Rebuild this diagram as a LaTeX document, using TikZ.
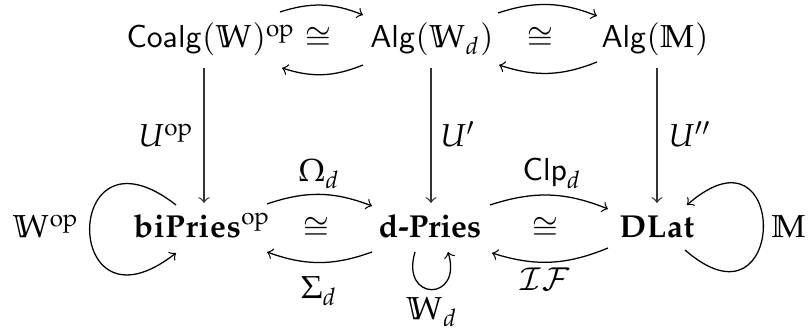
\documentclass[tikz,border=0pt]{standalone}
\usepackage[T1]{fontenc}
\usepackage{amsmath,amssymb}
\usepackage{mathpazo}
\begin{document}
\begin{tikzpicture}[x=0.315pt,y=0.315pt,
  lbl/.style={inner sep=0pt},
  bl/.style={inner sep=0pt,anchor=base},
  arr/.style={->,line width=0.4pt},
  vert/.style={->,line width=0.4pt,draw=black!80}]
\useasboundingbox (0,0) rectangle (812,335);
% top row (baseline Y=287)
\node[bl] (coalg) at (211,287) {$\mathsf{Coalg}(\mathbb{W})^{\mathrm{op}}$};
\node[bl] (c1) at (318,287) {$\cong$};
\node[bl] (algw) at (432,287) {$\mathsf{Alg}(\mathbb{W}_d)$};
\node[bl] (c2) at (540,287) {$\cong$};
\node[bl] (algm) at (655,287) {$\mathsf{Alg}(\mathbb{M})$};
% bottom row (baseline Y=97)
\node[bl] (wop) at (46,97) {$\mathbb{W}^{\mathrm{op}}$};
\node[bl] (bip) at (202,97) {$\mathbf{biPries}^{\mathrm{op}}$};
\node[bl] (c3) at (316,97) {$\cong$};
\node[bl] (dp) at (430,97) {\textbf{d-Pries}};
\node[bl] (c4) at (545,97) {$\cong$};
\node[bl] (dlat) at (657,97) {$\mathbf{DLat}$};
\node[bl] (mm) at (789,97) {$\mathbb{M}$};
% labels
\node[bl] (uop) at (166,188) {$U^{\mathrm{op}}$};
\node[bl] (up) at (458,188) {$U'$};
\node[bl] (upp) at (690,188) {$U''$};
\node[bl] (om) at (319,153) {$\Omega_d$};
\node[bl] (si) at (319,36) {$\Sigma_d$};
\node[bl] (clp) at (552,154) {$\mathsf{Clp}_d$};
\node[bl] (if) at (545,44) {$\mathcal{IF}$};
\node[bl] (wd) at (432,15) {$\mathbb{W}_d$};
% vertical arrows
\coordinate (v1s) at (204,267); \coordinate (v1e) at (204,132);
\coordinate (v2s) at (431,267); \coordinate (v2e) at (431,132);
\coordinate (v3s) at (657,267); \coordinate (v3e) at (657,132);
\draw[vert] (v1s) -- (v1e);
\draw[vert] (v2s) -- (v2e);
\draw[vert] (v3s) -- (v3e);
% top curved arrows
\coordinate (a1s) at (280,323); \coordinate (a1e) at (363,320);
\coordinate (b1s) at (363,270); \coordinate (b1e) at (282,267);
\coordinate (a2s) at (498,322); \coordinate (a2e) at (597,319);
\coordinate (b2s) at (597,273); \coordinate (b2e) at (499,270);
\draw[arr] (a1s) to[bend left=20] (a1e);
\draw[arr] (b1s) to[bend left=20] (b1e);
\draw[arr] (a2s) to[bend left=20] (a2e);
\draw[arr] (b2s) to[bend left=20] (b2e);
% bottom curved arrows
\coordinate (a3s) at (267,131); \coordinate (a3e) at (372,129);
\coordinate (b3s) at (372,83); \coordinate (b3e) at (267,83);
\coordinate (a4s) at (490,130); \coordinate (a4e) at (608,126);
\coordinate (b4s) at (608,87); \coordinate (b4e) at (492,82);
\draw[arr] (a3s) to[bend left=20] (a3e);
\draw[arr] (b3s) to[bend left=20] (b3e);
\draw[arr] (a4s) to[bend left=20] (a4e);
\draw[arr] (b4s) to[bend left=20] (b4e);
% loops
\coordinate (l1s) at (176,130); \coordinate (l1e) at (176,82);
\draw[arr] (l1s) .. controls (61,220) and (61,-8) .. (l1e);
\coordinate (l2s) at (685,85); \coordinate (l2e) at (687,130);
\draw[arr] (l2s) .. controls (788,-5) and (790,220) .. (l2e);
\coordinate (l3s) at (415,83); \coordinate (l3e) at (448,83);
\draw[arr] (l3s) .. controls (400,33) and (463,33) .. (l3e);
\end{tikzpicture}
\end{document}
